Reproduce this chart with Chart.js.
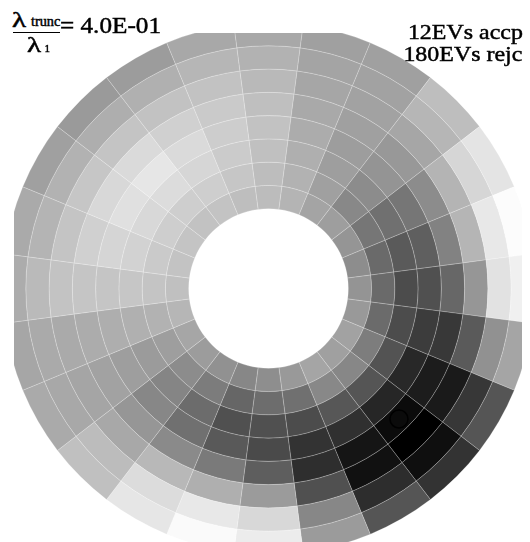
<!DOCTYPE html>
<html>
<head>
<meta charset="utf-8">
<script src="https://cdn.jsdelivr.net/npm/chart.js@4.4.0/dist/chart.umd.min.js"></script>
<style>
  html, body { margin: 0; padding: 0; background: #fff; overflow: hidden; }
  body { width: 530px; height: 542px; position: relative; font-family: "Liberation Serif", "Times New Roman", "DejaVu Serif", serif; color: #000; }
  #clip { position: absolute; left: 14px; top: 33px; width: 508px; height: 512px; overflow: hidden; }
  #clip canvas { position: absolute; left: -12px; top: -11px; }
  .t { position: absolute; white-space: nowrap; line-height: 1; transform-origin: left top; -webkit-text-stroke: 0.45px #000; }
</style>
</head>
<body>
<div id="clip"><canvas id="polar" width="533" height="533"></canvas></div>

<!-- ratio label, top left -->
<div class="t" style="left:12px; top:10px; font-size:20px; transform:scaleX(1.45);">λ</div>
<div class="t" style="left:31px; top:15px; font-size:14px; transform:scaleX(1.02);">trunc</div>
<div style="position:absolute; left:12.5px; top:31.8px; width:47.5px; height:1.5px; background:#000;"></div>
<div class="t" style="left:26.5px; top:35px; font-size:20px; transform:scaleX(1.45);">λ</div>
<div class="t" style="left:44.5px; top:42.5px; font-size:11px;">1</div>
<div class="t" style="left:59.5px; top:14.5px; font-size:22.5px; transform:scaleX(1.12);">= 4.0E-01</div>

<!-- eigenvalue counts, top right -->
<div class="t" style="right:7.3px; top:22.4px; font-size:21px; transform:scaleX(1.14); transform-origin:right top;">12EVs accp</div>
<div class="t" style="right:7.3px; top:44.1px; font-size:21px; transform:scaleX(1.14); transform-origin:right top;">180EVs rejc</div>

<script>
// sectors: centre angle, clockwise from 12 o'clock (24 x 15 deg)
const sectorAngles = [0, 15, 30, 45, 60, 75, 90, 105, 120, 135, 150, 165,
                      180, 195, 210, 225, 240, 255, 270, 285, 300, 315, 330, 345];
const sectorSpan = [15, 15, 15, 15, 15, 15, 15, 15, 15, 15, 15, 15,
                    15, 15, 15, 15, 15, 15, 15, 15, 15, 15, 15, 15];

// grey level of each cell (0 = black, 255 = white), ring1 = innermost
const ring1 = [188, 180, 164, 158, 149, 141, 148, 153, 162, 160, 165, 153, 142, 135, 145, 156, 166, 182, 192, 195, 196, 194, 195, 190];
const ring2 = [189, 178, 160, 136, 118, 106, 106, 107, 125, 135, 136, 112, 109, 102, 124, 140, 158, 178, 196, 202, 206, 206, 206, 198];
const ring3 = [192, 175, 158, 140, 112,  90,  76,  76,  83,  85,  87,  76,  80,  80, 108, 133, 155, 176, 198, 210, 216, 220, 214, 203];
const ring4 = [194, 172, 157, 148, 118,  95,  80,  60,  40,  38,  48,  51,  74,  89, 112, 135, 158, 174, 197, 213, 224, 230, 218, 205];
const ring5 = [191, 169, 160, 152, 140, 130, 103,  56,  28,  11,  21,  46,  94, 122, 138, 150, 162, 172, 197, 208, 216, 218, 208, 202];
const ring6 = [185, 166, 162, 166, 180, 181, 150,  90,  26,   0,  17,  80, 155, 175, 184, 168, 165, 170, 195, 196, 198, 196, 194, 194];
const ring7 = [178, 164, 162, 182, 214, 232, 226, 145,  55,  15,  45, 135, 216, 232, 220, 188, 168, 170, 186, 180, 178, 174, 176, 182];
const ring8 = [168, 160, 160, 190, 228, 252, 240, 165,  85,  51,  85, 155, 236, 250, 230, 192, 170, 166, 172, 170, 160, 154, 156, 168];

// circled cell
const markerSector = 9;
const markerRing = 5;

const rings = [ring1, ring2, ring3, ring4, ring5, ring6, ring7, ring8];
const grey = v => `rgb(${v},${v},${v})`;

// doughnut draws dataset 0 outermost, so outer ring goes first
const datasets = rings.slice().reverse().map((vals, i) => ({
  label: 'ring ' + (rings.length - i),
  data: sectorSpan,
  backgroundColor: vals.map(grey),
  borderColor: 'rgba(255,255,255,0.22)',
  borderWidth: 1,
  hoverOffset: 0
}));

const markerPlugin = {
  id: 'cellMarker',
  afterDatasetsDraw(chart) {
    const meta = chart.getDatasetMeta(rings.length - markerRing);
    const arc = meta.data[markerSector];
    const p = arc.getCenterPoint();
    const ctx = chart.ctx;
    ctx.save();
    ctx.beginPath();
    ctx.arc(p.x, p.y, 9, 0, Math.PI * 2);
    ctx.strokeStyle = '#000';
    ctx.lineWidth = 1.5;
    ctx.stroke();
    ctx.restore();
  }
};

new Chart(document.getElementById('polar'), {
  type: 'doughnut',
  data: {
    labels: sectorAngles.map(a => a + '°'),
    datasets
  },
  options: {
    responsive: false,
    animation: false,
    events: [],
    cutout: '30%',
    rotation: -7.5,
    layout: { padding: 0 },
    plugins: {
      legend: { display: false },
      tooltip: { enabled: false }
    }
  },
  plugins: [markerPlugin]
});
</script>
</body>
</html>
